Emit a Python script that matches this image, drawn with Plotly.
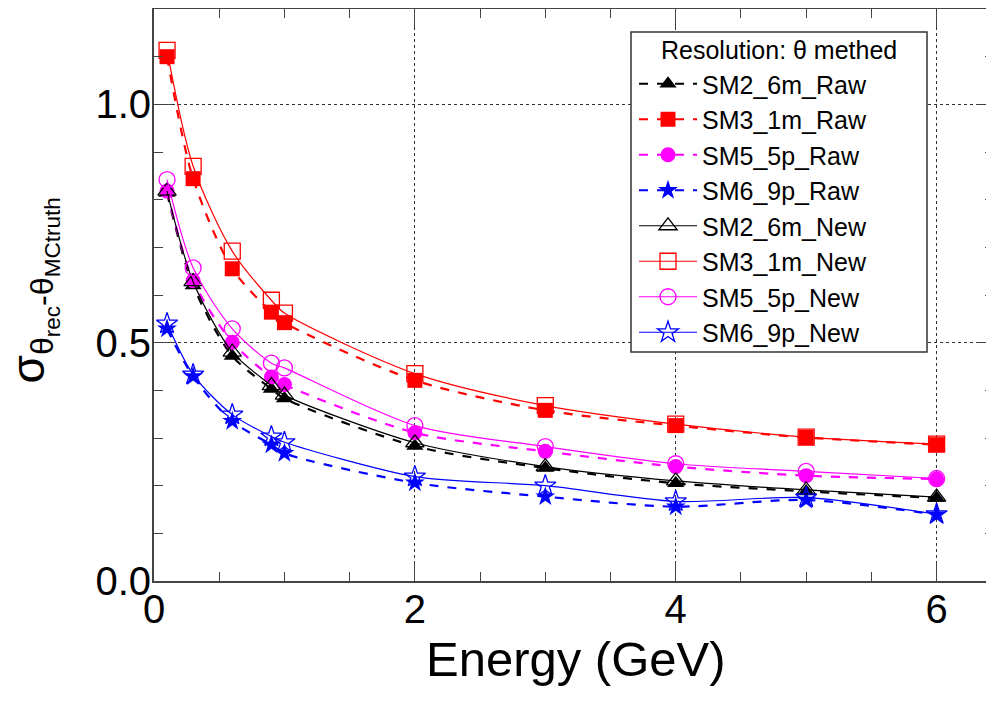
import plotly.graph_objects as go

energy = [0.1, 0.3, 0.6, 0.9, 1.0, 2, 3, 4, 5, 6]

sm2_raw = [0.814, 0.620, 0.472, 0.403, 0.383, 0.283, 0.237, 0.205, 0.188, 0.174]
sm3_raw = [1.100, 0.844, 0.655, 0.564, 0.542, 0.421, 0.358, 0.326, 0.301, 0.286]
sm5_raw = [0.818, 0.630, 0.501, 0.428, 0.412, 0.311, 0.272, 0.240, 0.221, 0.214]
sm6_raw = [0.529, 0.429, 0.335, 0.286, 0.268, 0.206, 0.177, 0.156, 0.170, 0.139]

sm2_new = [0.818, 0.628, 0.480, 0.410, 0.390, 0.290, 0.240, 0.210, 0.191, 0.176]
sm3_new = [1.113, 0.870, 0.692, 0.589, 0.562, 0.435, 0.368, 0.329, 0.302, 0.287]
sm5_new = [0.842, 0.657, 0.529, 0.457, 0.447, 0.326, 0.282, 0.246, 0.230, 0.215]
sm6_new = [0.540, 0.433, 0.349, 0.303, 0.291, 0.219, 0.200, 0.167, 0.175, 0.140]

x_ticks = [0, 2, 4, 6]
y_ticks = [0.0, 0.5, 1.0]

FONT = "Liberation Sans, Arial, sans-serif"

raw_series = [
    ("SM2_6m_Raw", sm2_raw, "black", "triangle-up"),
    ("SM3_1m_Raw", sm3_raw, "#ff0000", "square"),
    ("SM5_5p_Raw", sm5_raw, "#ff00ff", "circle"),
    ("SM6_9p_Raw", sm6_raw, "#0000ff", "star"),
]
new_series = [
    ("SM2_6m_New", sm2_new, "black", "triangle-up-open"),
    ("SM3_1m_New", sm3_new, "#ff0000", "square-open"),
    ("SM5_5p_New", sm5_new, "#ff00ff", "circle-open"),
    ("SM6_9p_New", sm6_new, "#0000ff", "star-open"),
]

fig = go.Figure()
for name, ys, col, sym in raw_series:
    fig.add_trace(go.Scatter(
        x=energy, y=ys, name=name, mode="lines+markers", legendgroup=name,
        line=dict(color=col, width=2.2, dash="dash", shape="spline", smoothing=0.8),
        marker=dict(symbol=sym, size=15, color=col, line=dict(width=0)),
    ))
for name, ys, col, sym in new_series:
    fig.add_trace(go.Scatter(
        x=energy, y=ys, name=name, mode="lines+markers", legendgroup=name,
        line=dict(color=col, width=1.2, shape="spline", smoothing=0.8),
        marker=dict(symbol=sym, size=16, color=col, line=dict(width=1.3, color=col)),
    ))

axis_common = dict(
    showline=True, linecolor="#444444", linewidth=2, mirror="ticks",
    ticks="inside", ticklen=18, tickwidth=1.2, tickcolor="#444444",
    showgrid=True, gridcolor="#333333", griddash="dot", gridwidth=1,
    zeroline=False, automargin=False,
    tickfont=dict(family=FONT, size=40, color="black"),
)

fig.update_xaxes(
    range=[0, 6.44], tickvals=x_ticks, ticktext=[str(v) for v in x_ticks],
    minor=dict(dtick=0.5, ticks="inside", ticklen=9, tickcolor="#444444", showgrid=False),
    ticklabelstandoff=-8,
    **axis_common,
)
fig.update_yaxes(
    range=[0, 1.2], tickvals=y_ticks, ticktext=[f"{v:.1f}" for v in y_ticks],
    minor=dict(dtick=0.1, ticks="inside", ticklen=9, tickcolor="#444444", showgrid=False),
    ticklabelstandoff=-7,
    **axis_common,
)

# axis titles
fig.add_annotation(
    text="Energy (GeV)", xref="paper", yref="paper", x=0.502, y=0,
    xanchor="center", yanchor="middle", yshift=-78, showarrow=False,
    font=dict(family=FONT, size=49, color="black"),
)
fig.add_annotation(
    text="σ<sub>θ<sub>rec</sub>-θ<sub>MCtruth</sub></sub>",
    xref="paper", yref="paper", x=0, y=0.5, xanchor="right", yanchor="middle",
    xshift=-88, yshift=4, textangle=-90, showarrow=False,
    font=dict(family=FONT, size=46, color="black"),
)

# legend box and header
fig.add_shape(
    type="rect", xref="paper", yref="paper",
    x0=(631 - 154) / 840, x1=(927 - 154) / 840,
    y0=1 - (352 - 9) / 572, y1=1 - (32 - 9) / 572,
    line=dict(color="#333333", width=1.5), fillcolor="white", layer="above",
)
fig.add_annotation(
    text="Resolution: θ methed", xref="paper", yref="paper",
    x=(779 - 154) / 840, y=1 - (50 - 9) / 572, xanchor="center", yanchor="middle",
    showarrow=False, font=dict(family=FONT, size=25, color="black"),
)

fig.update_layout(
    width=994, height=701,
    margin=dict(l=146, r=8, t=1, b=128),
    plot_bgcolor="white", paper_bgcolor="white",
    legend=dict(
        x=(634 - 154) / 840, y=1 - (61 - 9) / 572, xanchor="left", yanchor="top",
        borderwidth=0, bgcolor="rgba(0,0,0,0)",
        font=dict(family=FONT, size=25, color="black"),
        tracegroupgap=0, itemwidth=58,
    ),
    showlegend=True,
)

fig.write_html("out.html")
